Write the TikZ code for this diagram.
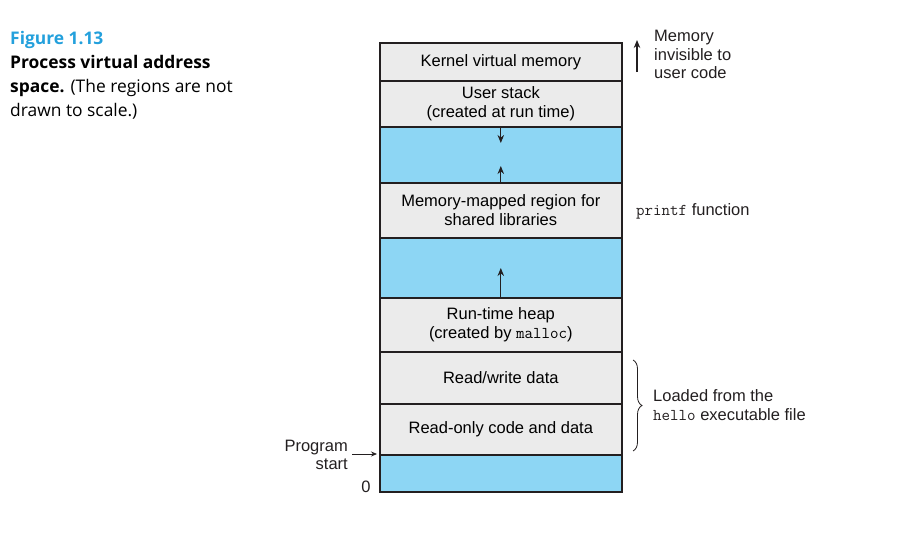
\documentclass[tikz,border=0pt]{standalone}
\usepackage{fontspec}
\setmainfont{Liberation Sans}
\newfontfamily\capfont{Open Sans}
\usetikzlibrary{arrows.meta,decorations.pathreplacing}
\definecolor{regblue}{RGB}{141,214,244}
\definecolor{reggray}{RGB}{235,235,235}
\definecolor{edgec}{RGB}{35,31,32}
\definecolor{figblue}{RGB}{35,160,220}
\begin{document}
\begin{tikzpicture}[x=1pt,y=-1pt,
  region/.style={draw=edgec,line width=1.6pt,minimum width=242pt,inner sep=0pt,
    anchor=north west,align=center,font=\fontsize{16.5}{19}\selectfont},
  grayreg/.style={region,fill=reggray},
  bluereg/.style={region,fill=regblue},
  growarrow/.style={draw=edgec,line width=1.1pt,-{Stealth[length=8pt,width=6.5pt]}},
  note/.style={align=left,inner sep=0pt,font=\fontsize{16.5}{18.5}\selectfont,text=edgec},
  captext/.style={anchor=north west,inner sep=0pt,align=left,font=\capfont\fontsize{17.4}{24}\selectfont}
]
\useasboundingbox (0,0) rectangle (910,538);
% caption
\node[captext] (caption) at (10,31) {{\color{figblue}\bfseries Figure 1.13}\\
  {\bfseries Process virtual address}\\
  {\bfseries space.} (The regions are not\\
  drawn to scale.)};
% regions
\node[grayreg,minimum height=38pt] (kernel) at (379,42) {Kernel virtual memory};
\node[grayreg,minimum height=46pt] (stack) at (379,80) {User stack\\(created at run time)};
\node[bluereg,minimum height=56pt] (gap1) at (379,126) {};
\node[grayreg,minimum height=55pt] (mmap) at (379,182) {Memory-mapped region for\\shared libraries};
\node[bluereg,minimum height=60pt] (gap2) at (379,237) {};
\node[grayreg,minimum height=54pt] (heap) at (379,297) {Run-time heap\\(created by {\ttfamily malloc})};
\node[grayreg,minimum height=52pt] (rw) at (379,351) {Read/write data};
\node[grayreg,minimum height=51pt] (ro) at (379,403) {Read-only code and data};
\node[bluereg,minimum height=37pt] (gap3) at (379,454) {};
% growth arrows
\draw[growarrow] (gap1.north) -- ++(0,17);
\draw[growarrow] (mmap.north) -- ++(0,-16);
\draw[growarrow] (heap.north) -- ++(0,-29);
% right annotations
\coordinate (memlow) at (637,72);
\coordinate (memhigh) at (637,40);
\draw[growarrow] (memlow) -- (memhigh);
\node[note,anchor=north west] (memnote) at (654,30) {Memory\\invisible to\\user code};
\node[note,anchor=west] (printfnote) at (636,211) {{\ttfamily printf} function};
\coordinate (brtop) at (633,360);
\coordinate (brbot) at (633,451);
\draw[edgec,line width=0.8pt,decorate,decoration={brace,amplitude=9pt}] (brtop) -- (brbot);
\node[note,anchor=west] (loaded) at (653,405) {Loaded from the\\{\ttfamily hello} executable file};
% program start
\node[note,align=right,anchor=east] (pstart) at (348,455) {Program\\start};
\coordinate (psfrom) at (352,454);
\draw[edgec,line width=0.8pt,-{Stealth[length=6pt,width=5pt]}] (psfrom) -- ([xshift=-2pt]gap3.north west);
\node[note,anchor=center] (zero) at (366,487) {0};
\end{tikzpicture}
\end{document}
